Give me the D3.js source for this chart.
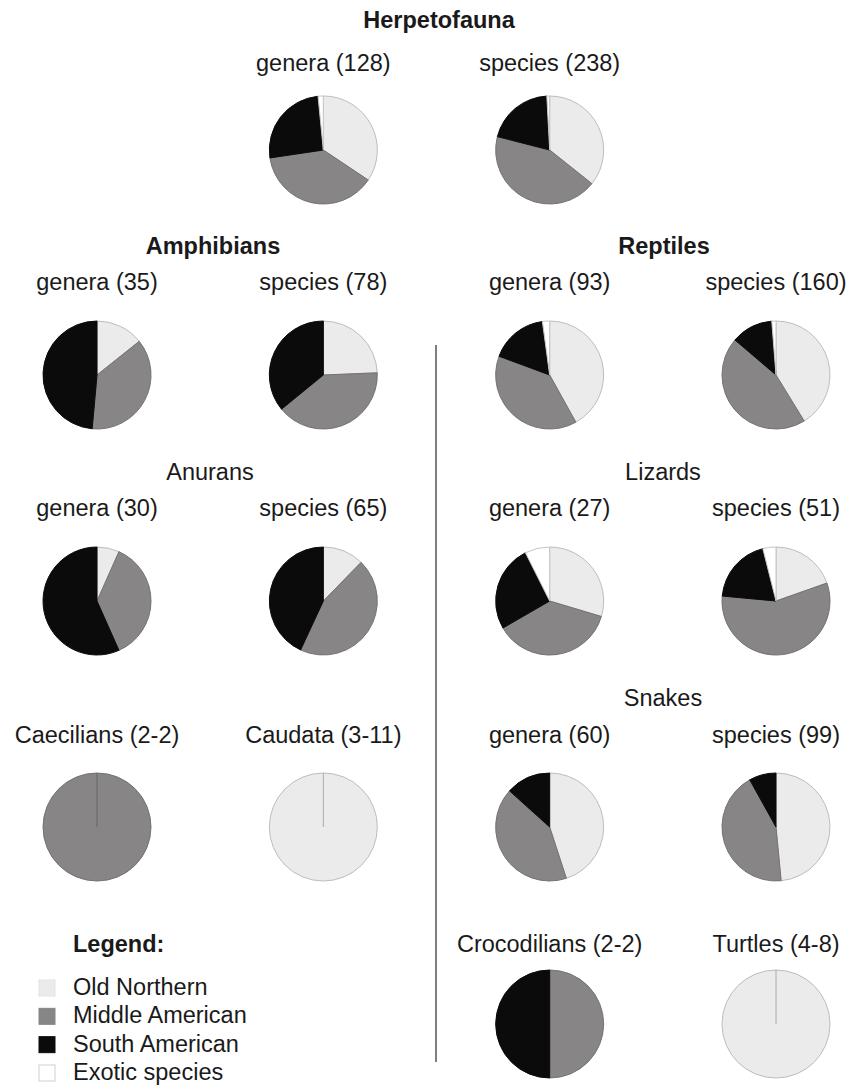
<!DOCTYPE html>
<html>
<head>
<meta charset="utf-8">
<script src="https://cdn.jsdelivr.net/npm/d3@7"></script>
<style>
  html, body { margin: 0; padding: 0; background: #fff; }
  svg { display: block; }
  text { font-family: "Liberation Sans", Arial, Helvetica, sans-serif; fill: #1a1a1a; }
</style>
</head>
<body>
<svg id="chart" width="848" height="1086"></svg>
<script>
// ---------------- DATA ----------------
const categories = ["Old Northern", "Middle American", "South American", "Exotic species"];

const pieLabels = [
  "genera (128)", "species (238)",
  "genera (35)", "species (78)", "genera (93)", "species (160)",
  "genera (30)", "species (65)", "genera (27)", "species (51)",
  "Caecilians (2-2)", "Caudata (3-11)", "genera (60)", "species (99)",
  "Crocodilians (2-2)", "Turtles (4-8)"
];

const oldNorthern    = [44, 85,  5, 19, 39, 66,  2,  8,  8, 10, 0, 11, 27, 48, 0, 8];
const middleAmerican = [49, 103, 13, 31, 36, 72, 11, 29, 10, 29, 2,  0, 25, 43, 1, 0];
const southAmerican  = [33, 48, 17, 28, 16, 20, 17, 28,  7, 10, 0,  0,  8,  8, 1, 0];
const exoticSpecies  = [ 2,  2,  0,  0,  2,  2,  0,  0,  2,  2, 0,  0,  0,  0, 0, 0];

const groupTitles = ["Herpetofauna", "Amphibians", "Reptiles", "Anurans", "Lizards", "Snakes"];
const legendTitle = "Legend:";

// ---------------- LAYOUT / STYLE ----------------
const W = 848, H = 1086;
const R = 54;
const FONT = 23.5;
const colX = d3.scaleLinear().domain([0, 3]).range([97, 776]);
const rowY = [150, 375, 601, 827, 1024];
const rowLabelY = [71, 290, 516, 743, 952];
// slot (column, row) for each pie, in pie order
const slots = [
  [1, 0], [2, 0],
  [0, 1], [1, 1], [2, 1], [3, 1],
  [0, 2], [1, 2], [2, 2], [3, 2],
  [0, 3], [1, 3], [2, 3], [3, 3],
  [2, 4], [3, 4]
];
const groupPos = [
  { x: 439, y: 28, bold: true },
  { x: 213, y: 254, bold: true },
  { x: 664, y: 254, bold: true },
  { x: 210, y: 480, bold: false },
  { x: 663, y: 480, bold: false },
  { x: 663, y: 706, bold: false }
];

const fillScale = d3.scaleOrdinal().domain(categories)
  .range(["#ebebeb", "#878585", "#0b0b0b", "#ffffff"]);
const edgeScale = d3.scaleOrdinal().domain(categories)
  .range(["#bdbdbd", "#737373", "#0b0b0b", "#c4c4c4"]);

const svg = d3.select("#chart");

// Group titles
svg.append("g").selectAll("text")
  .data(groupTitles)
  .join("text")
  .attr("x", (d, i) => groupPos[i].x)
  .attr("y", (d, i) => groupPos[i].y)
  .attr("text-anchor", "middle")
  .attr("font-size", FONT)
  .attr("font-weight", (d, i) => groupPos[i].bold ? "bold" : "normal")
  .text(d => d);

// Pies
const pie = d3.pie().sort(null).value(d => d.value);
const arc = d3.arc().innerRadius(0).outerRadius(R);

pieLabels.forEach((label, i) => {
  const [c, r] = slots[i];
  const cx = colX(c), cy = rowY[r];
  const values = [oldNorthern[i], middleAmerican[i], southAmerican[i], exoticSpecies[i]]
    .map((v, k) => ({ cat: categories[k], value: v }));
  const arcs = pie(values).filter(a => a.data.value > 0);

  svg.append("text")
    .attr("x", cx)
    .attr("y", rowLabelY[r])
    .attr("text-anchor", "middle")
    .attr("font-size", FONT)
    .text(label);

  const g = svg.append("g").attr("transform", `translate(${cx},${cy})`);
  g.selectAll("path")
    .data(arcs)
    .join("path")
    .attr("d", arc)
    .attr("fill", d => fillScale(d.data.cat))
    .attr("stroke", d => edgeScale(d.data.cat))
    .attr("stroke-width", 1);

  // full-circle slices get a radial seam line, as in the original
  arcs.filter(a => a.endAngle - a.startAngle > 2 * Math.PI - 1e-6).forEach(a => {
    g.append("line")
      .attr("x1", 0).attr("y1", 0)
      .attr("x2", R * Math.sin(a.startAngle))
      .attr("y2", -R * Math.cos(a.startAngle))
      .attr("stroke", d3.color(edgeScale(a.data.cat)).darker(0.3))
      .attr("stroke-width", 1);
  });
});

// Vertical divider
svg.append("line")
  .attr("x1", 436).attr("x2", 436)
  .attr("y1", 345).attr("y2", 1062)
  .attr("stroke", "#555")
  .attr("stroke-width", 1.5);

// Legend
const lg = svg.append("g");
lg.append("text")
  .attr("x", 73).attr("y", 952)
  .attr("font-size", FONT)
  .attr("font-weight", "bold")
  .text(legendTitle);
const legendY = d3.scaleLinear().domain([0, 3]).range([995, 1080]);
const items = lg.selectAll("g.item")
  .data(categories)
  .join("g")
  .attr("class", "item")
  .attr("transform", (d, i) => `translate(0,${legendY(i)})`);
items.append("rect")
  .attr("x", 39).attr("y", -15)
  .attr("width", 16).attr("height", 16)
  .attr("fill", d => fillScale(d))
  .attr("stroke", (d, i) => i === 0 ? "#e3e3e3" : (i === 3 ? "#cfcfcf" : fillScale(d)))
  .attr("stroke-width", 1);
items.append("text")
  .attr("x", 73).attr("y", 0)
  .attr("font-size", FONT)
  .text(d => d);
</script>
</body>
</html>
